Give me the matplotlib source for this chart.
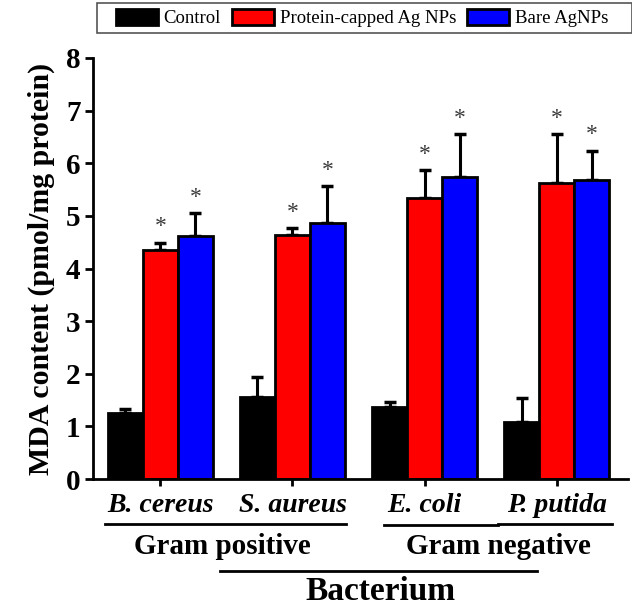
import matplotlib
matplotlib.use("Agg")
import matplotlib.pyplot as plt
import matplotlib.transforms as mtrans
import numpy as np
from matplotlib.patches import Patch, Rectangle
from matplotlib.lines import Line2D

categories = ["B. cereus", "S. aureus", "E. coli", "P. putida"]
series_names = ["Control", "Protein-capped Ag NPs", "Bare AgNPs"]
control = [1.26, 1.56, 1.36, 1.09]
control_err = [0.07, 0.37, 0.10, 0.44]
protein = [4.35, 4.64, 5.34, 5.62]
protein_err = [0.14, 0.13, 0.53, 0.94]
bare = [4.61, 4.86, 5.74, 5.68]
bare_err = [0.44, 0.70, 0.81, 0.56]
yticks = [0, 1, 2, 3, 4, 5, 6, 7, 8]
groups = ["Gram positive", "Gram negative"]
xlabel = "Bacterium"
ylabel = "MDA content (pmol/mg protein)"

colors = ["#000000", "#ff0000", "#0000ff"]
W, H = 632, 607
plt.rcParams['font.family'] = ['Liberation Serif', 'DejaVu Serif']
fig = plt.figure(figsize=(W / 100, H / 100), dpi=100)

ax = fig.add_axes([93 / W, 1 - 479 / H, (628 - 93) / W, (479 - 58) / H])
x = np.arange(len(categories))
bw = 0.265
vals = [control, protein, bare]
errs = [control_err, protein_err, bare_err]
for i, (v, e, c) in enumerate(zip(vals, errs, colors)):
    pos = x + (i - 1) * bw
    ax.bar(pos, v, width=bw, color=c, edgecolor="black", linewidth=2, zorder=2)
    ax.errorbar(pos, v, yerr=[np.zeros(len(v)), e], fmt="none", ecolor="black",
                elinewidth=2.2, capsize=4.5, capthick=2.5, zorder=1)
    if i > 0:
        for p, vv, ee in zip(pos, v, e):
            ax.text(p, vv + ee + 0.1, "*", ha="center", va="bottom",
                    fontsize=17, color="#3a3a3a")

ax.set_xlim(-0.51, 3.54)
ax.set_ylim(0, 8)
ax.set_yticks(yticks)
ax.set_yticklabels([str(t) for t in yticks], fontsize=21, fontweight="bold")
ax.set_xticks(x)
ax.set_xticklabels([])
ax.tick_params(axis="y", direction="out", length=6, width=2, pad=3)
ax.tick_params(axis="x", direction="out", length=5, width=2)
for s in ["top", "right"]:
    ax.spines[s].set_visible(False)
for s in ["left", "bottom"]:
    ax.spines[s].set_linewidth(2)
ax.set_ylabel(ylabel, fontsize=21.5, fontweight="bold", labelpad=8)

# category labels
btr = mtrans.blended_transform_factory(ax.transData, fig.transFigure)
for xi, cat in zip(x, categories):
    ax.text(xi, 1 - 505 / H, cat, transform=btr, ha="center", va="center", fontsize=20,
            fontweight="bold", fontstyle="italic")

def fline(x0, x1, y):
    fig.add_artist(Line2D([x0 / W, x1 / W], [1 - y / H, 1 - y / H], color="black", lw=2))

fline(105, 346, 524)
fline(384, 498, 525)
fline(498, 612, 524)
fig.text(222 / W, 1 - 546 / H, groups[0], ha="center", va="center", fontsize=21, fontweight="bold")
fig.text(498 / W, 1 - 546 / H, groups[1], ha="center", va="center", fontsize=21, fontweight="bold")
fline(220, 537, 571)
fig.text(380 / W, 1 - 591 / H, xlabel, ha="center", va="center", fontsize=24, fontweight="bold")

# legend box
fig.add_artist(Rectangle((97 / W, 1 - 33 / H), (W - 97) / W, 30 / H, transform=fig.transFigure,
                         facecolor="white", edgecolor="#555555", linewidth=1.2))
handles = [Patch(facecolor=c, edgecolor="black", linewidth=2) for c in colors]
leg = fig.legend(handles, series_names, loc="center left",
                 bbox_to_anchor=(116 / W, 1 - 18 / H),
                 ncol=3, fontsize=13.5, frameon=False,
                 handlelength=2.25, handleheight=1.0, handletextpad=0.28,
                 columnspacing=0.6, borderaxespad=0, borderpad=0)

fig.savefig("out.png", dpi=100)
